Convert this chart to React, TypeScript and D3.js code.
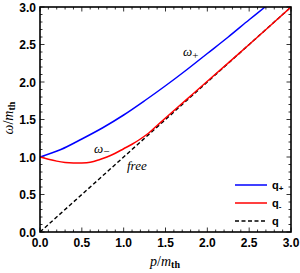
import React from "react";
import * as d3 from "d3";

const pPlus = [0, 0.25, 0.5, 0.75, 1.0, 1.25, 1.5, 1.75, 2.0, 2.25, 2.5, 2.69];
const omegaPlus = [1.0, 1.1, 1.24, 1.39, 1.56, 1.75, 1.95, 2.16, 2.38, 2.6, 2.83, 3.0];

const pMinus = [0, 0.1, 0.2, 0.3, 0.4, 0.5, 0.6, 0.7, 0.8, 0.9, 1.0, 1.1, 1.2, 1.3, 1.4, 1.5, 1.75, 2.0, 2.5, 3.0];
const omegaMinus = [1.0, 0.97, 0.945, 0.928, 0.92, 0.92, 0.93, 0.96, 1.0, 1.05, 1.11, 1.17, 1.24, 1.32, 1.42, 1.52, 1.765, 2.01, 2.5, 3.0];

const pFree = [0, 3];
const omegaFree = [0, 3];

const xTicks = [0, 0.5, 1.0, 1.5, 2.0, 2.5, 3.0];
const yTicks = [0, 0.5, 1.0, 1.5, 2.0, 2.5, 3.0];
const legendLabels = ["q", "q", "q"];
const legendSubs = ["+", "-", ""];

export default function App() {
  const W = 300, H = 273;
  const L = 40, R = 291, T = 7, B = 232;
  const x = d3.scaleLinear().domain([0, 3]).range([L, R]);
  const y = d3.scaleLinear().domain([0, 3]).range([B, T]);
  const line = d3.line<[number, number]>().x(d => x(d[0])).y(d => y(d[1])).curve(d3.curveCatmullRom.alpha(0.5));
  const plusPts = pPlus.map((p, i) => [p, omegaPlus[i]] as [number, number]);
  const minusPts = pMinus.map((p, i) => [p, omegaMinus[i]] as [number, number]);
  const freePts = pFree.map((p, i) => [p, omegaFree[i]] as [number, number]);
  const minor = d3.range(0, 3.0001, 0.1);
  const tickFont = "'Liberation Sans', Arial, sans-serif";
  const serif = "'Liberation Serif', 'Times New Roman', serif";
  const legendColors = ["#0000ff", "#ff0000", "#000"];
  const legendDash = [undefined, undefined, "4,2.5"];

  return (
    <svg width={W} height={H} style={{ position: "absolute", left: 0, top: 0 }}>
      <rect width={W} height={H} fill="#fff" />
      <defs>
        <clipPath id="plotclip">
          <rect x={L} y={T} width={R - L} height={B - T} />
        </clipPath>
      </defs>
      {minor.map((v, i) => {
        const major = Math.abs(v * 2 - Math.round(v * 2)) < 1e-6;
        const len = major ? 4.5 : 2.5;
        return (
          <g key={"t" + i} stroke="#000" strokeWidth={0.8}>
            <line x1={x(v)} x2={x(v)} y1={B} y2={B - len} />
            <line x1={x(v)} x2={x(v)} y1={T} y2={T + len} />
            <line x1={L} x2={L + len} y1={y(v)} y2={y(v)} />
            <line x1={R} x2={R - len} y1={y(v)} y2={y(v)} />
          </g>
        );
      })}
      <g clipPath="url(#plotclip)" fill="none">
        <path d={line(freePts) || ""} stroke="#000" strokeWidth={1.4} strokeDasharray="4,2.5" />
        <path d={line(plusPts) || ""} stroke="#0000ff" strokeWidth={1.5} />
        <path d={line(minusPts) || ""} stroke="#ff0000" strokeWidth={1.5} />
      </g>
      <rect x={L} y={T} width={R - L} height={B - T} fill="none" stroke="#000" strokeWidth={1.6} />
      {xTicks.map((v, i) => (
        <text key={"xl" + i} x={x(v)} y={B + 15} textAnchor="middle" fontFamily={tickFont} fontWeight="bold" fontSize={12}>
          {v.toFixed(1)}
        </text>
      ))}
      {yTicks.map((v, i) => (
        <text key={"yl" + i} x={L - 4} y={y(v) + 4.5} textAnchor="end" fontFamily={tickFont} fontWeight="bold" fontSize={12}>
          {v.toFixed(1)}
        </text>
      ))}
      <text x={165} y={266} textAnchor="middle" fontFamily={serif} fontSize={14}>
        <tspan fontStyle="italic">p</tspan>/<tspan fontStyle="italic">m</tspan>
        <tspan fontSize={10} fontWeight="bold" dy={2}>th</tspan>
      </text>
      <text transform="translate(13,118) rotate(-90)" textAnchor="middle" fontFamily={serif} fontSize={14}>
        <tspan fontStyle="italic">ω</tspan>/<tspan fontStyle="italic">m</tspan>
        <tspan fontSize={10} fontWeight="bold" dy={2}>th</tspan>
      </text>
      <text x={183} y={56} fontFamily={serif} fontStyle="italic" fontSize={13}>
        ω<tspan fontSize={11} fontStyle="normal" dy={3}>+</tspan>
      </text>
      <text x={94} y={153} fontFamily={serif} fontStyle="italic" fontSize={13}>
        ω<tspan fontSize={11} fontStyle="normal" dy={2}>−</tspan>
      </text>
      <text x={127} y={170} fontFamily={serif} fontStyle="italic" fontSize={13}>free</text>
      {legendLabels.map((lab, i) => {
        const ly = 185 + i * 18;
        return (
          <g key={"lg" + i}>
            <line x1={235} x2={267} y1={ly} y2={ly} stroke={legendColors[i]} strokeWidth={1.5} strokeDasharray={legendDash[i]} />
            <text x={272} y={ly + 3.5} fontFamily={tickFont} fontWeight="bold" fontSize={11}>
              {lab}
              {legendSubs[i] && <tspan fontSize={8} dy={2}>{legendSubs[i]}</tspan>}
            </text>
          </g>
        );
      })}
    </svg>
  );
}
